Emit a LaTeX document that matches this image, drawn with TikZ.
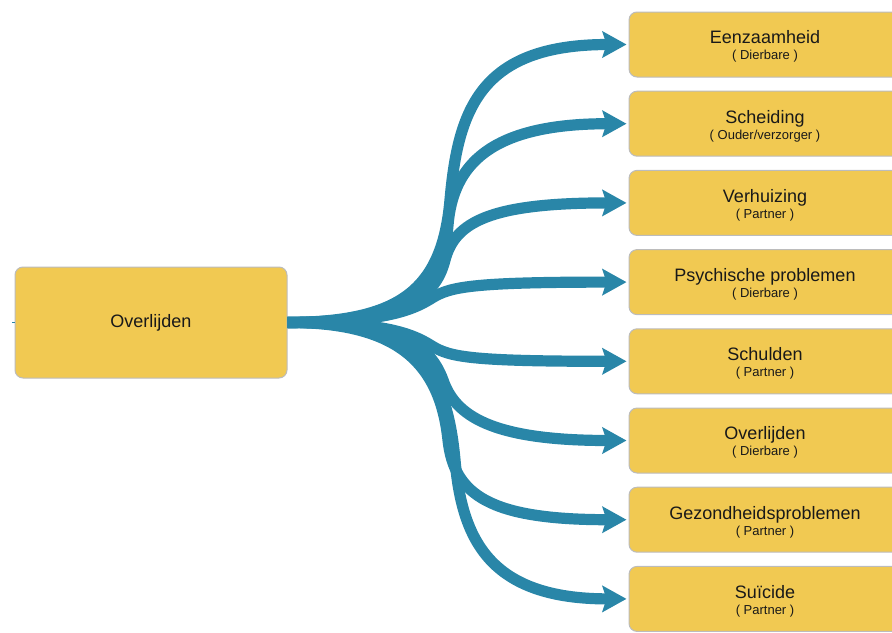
\documentclass[tikz,border=0pt]{standalone}
\usepackage{fontspec}
\setmainfont{Liberation Sans}
\usetikzlibrary{arrows.meta}
\definecolor{boxfill}{RGB}{241,201,82}
\definecolor{boxline}{RGB}{188,188,188}
\definecolor{flow}{RGB}{41,134,168}
\definecolor{ink}{RGB}{25,25,25}
\newcommand\cardtext[2]{\fontsize{13.5pt}{15pt}\selectfont\rule{0pt}{13pt}#1\\\fontsize{9.75pt}{11.6pt}\selectfont #2}
\begin{document}
\begin{tikzpicture}[x=0.75pt,y=-0.75pt,
  card/.style={draw=boxline,line width=0.75pt,fill=boxfill,rounded corners=6pt,
    minimum width=204pt,align=center,text=ink,inner sep=0pt},
  srcbox/.style={card,minimum height=83.25pt,font=\fontsize{13.5pt}{15pt}\selectfont},
  tgtbox/.style={card,minimum height=48.75pt},
  flowline/.style={draw=flow,line width=8.4pt,
    -{Stealth[length=18pt,width=19.5pt,inset=3pt]},shorten >=1.5pt}]
\useasboundingbox (0,0) rectangle (892,632);
\clip (0,0) rectangle (892,632);

% source
\node[srcbox] (src) at (151,322.5) {\rule{0pt}{11pt}Overlijden};

% targets
\node[tgtbox] (t1) at (765,44.5)  {\cardtext{Eenzaamheid}{( Dierbare )}};
\node[tgtbox] (t2) at (765,123.7) {\cardtext{Scheiding}{( Ouder/verzorger )}};
\node[tgtbox] (t3) at (765,202.9) {\cardtext{Verhuizing}{( Partner )}};
\node[tgtbox] (t4) at (765,282.1) {\cardtext{Psychische problemen}{( Dierbare )}};
\node[tgtbox] (t5) at (765,361.3) {\cardtext{Schulden}{( Partner )}};
\node[tgtbox] (t6) at (765,440.5) {\cardtext{Overlijden}{( Dierbare )}};
\node[tgtbox] (t7) at (765,519.7) {\cardtext{Gezondheidsproblemen}{( Partner )}};
\node[tgtbox] (t8) at (765,598.9) {\cardtext{Suïcide}{( Partner )}};

% small stub on the left side
\draw[draw=flow,line width=0.75pt] (src.west) -- ++(-3,0);

% fanned connectors
\draw[flowline] (src.east) .. controls (400,322) and (442,290) .. (450,200)
  .. controls (458,110) and (480,44.5) .. (t1.west);
\draw[flowline] (src.east) .. controls (400,322) and (442,300) .. (448,225)
  .. controls (453,165) and (490,123.7) .. (t2.west);
\draw[flowline] (src.east) .. controls (400,322) and (435,300) .. (445,260)
  .. controls (455,222) and (490,202.9) .. (t3.west);
\draw[flowline] (src.east) .. controls (380,322) and (410,312) .. (432,298)
  .. controls (450,287) and (470,282.1) .. (t4.west);
\draw[flowline] (src.east) .. controls (380,322) and (410,332) .. (432,346)
  .. controls (450,357) and (470,361.3) .. (t5.west);
\draw[flowline] (src.east) .. controls (400,322) and (430,345) .. (443,380)
  .. controls (455,415) and (490,440.5) .. (t6.west);
\draw[flowline] (src.east) .. controls (400,322) and (440,365) .. (448,440)
  .. controls (454,495) and (490,519.7) .. (t7.west);
\draw[flowline] (src.east) .. controls (400,322) and (445,350) .. (455,460)
  .. controls (462,540) and (490,598.9) .. (t8.west);
\end{tikzpicture}
\end{document}
